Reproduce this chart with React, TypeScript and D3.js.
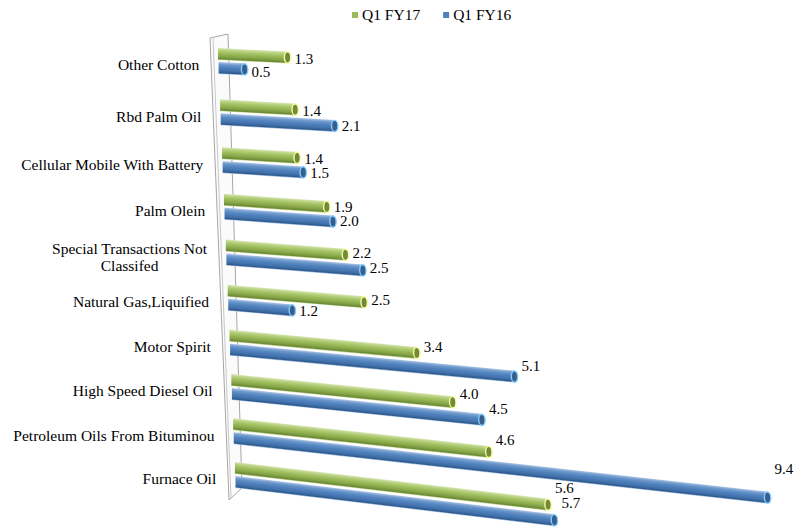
import { useEffect, useRef } from "react";
import * as d3 from "d3";

const categories = [
  "Other Cotton",
  "Rbd Palm Oil",
  "Cellular Mobile With Battery",
  "Palm Olein",
  "Special Transactions Not\nClassifed",
  "Natural Gas,Liquified",
  "Motor Spirit",
  "High Speed Diesel Oil",
  "Petroleum Oils From Bituminou",
  "Furnace Oil",
];
const seriesNames = ["Q1 FY17", "Q1 FY16"];
const fy17 = [1.3, 1.4, 1.4, 1.9, 2.2, 2.5, 3.4, 4.0, 4.6, 5.6];
const fy16 = [0.5, 2.1, 1.5, 2.0, 2.5, 1.2, 5.1, 4.5, 9.4, 5.7];

const W = 801;
const H = 529;
const FONT = "Liberation Serif, Tinos, DejaVu Serif, serif";

export default function App() {
  const ref = useRef<SVGSVGElement>(null);

  useEffect(() => {
    const svg = d3.select(ref.current);
    svg.selectAll("*").remove();

    // rows get a bit tighter towards the bottom (perspective)
    const rowY = d3.scalePow().exponent(0.95).domain([0, categories.length - 1]).range([54, 468]);
    const seriesY = d3.scalePoint().domain(seriesNames).range([0, 14]);
    // slight stretch to the right, like the 3D view
    const x = d3.scalePow().exponent(1.03).domain([0, 10]).range([0, 569]);
    // left edge of bars and their tilt depend on the height
    const leftX = d3.scaleLinear().domain([54, 482]).range([218, 235.5]);
    const slope = d3.scalePow().exponent(1.3).domain([54, 482]).range([0.05, 0.12]);

    const colors = { "Q1 FY17": "#9bbb59", "Q1 FY16": "#4f81bd" };
    const defs = svg.append("defs");
    const grads = [
      { id: "g17", stops: ["#d9e7b5", "#b5cf7c", "#9bbb59", "#86a54a", "#6b8a31", "#d2e2b0"] },
      { id: "g16", stops: ["#adc6e5", "#6d98cc", "#4f81bd", "#4373ad", "#2e5a8e", "#b3cbe8"] },
    ];
    grads.forEach((g) => {
      const lg = defs.append("linearGradient").attr("id", g.id).attr("x1", 0).attr("y1", 0).attr("x2", 0).attr("y2", 1);
      const offs = [0, 0.2, 0.45, 0.7, 0.9, 1];
      g.stops.forEach((c, i) => lg.append("stop").attr("offset", offs[i]).attr("stop-color", c));
    });

    // wall
    const wall = svg.append("g").attr("fill", "none").attr("stroke", "#a6a6a6").attr("stroke-width", 1);
    wall.append("path").attr("d", "M229,500 L242,488 L242,470 L231,480 Z").attr("fill", "#dcdcdc").attr("stroke", "none");
    wall.append("path").attr("d", "M210,38 L228,34 L242,488 L229,500 Z").attr("fill", "#fbfbfb");
    wall.append("path").attr("d", "M213,37 L231,498").attr("stroke", "#c8c8c8");

    const rows = categories.map((c, i) => ({ name: c, i, vals: [fy17[i], fy16[i]] }));

    const bars = svg.append("g");
    rows.forEach((r) => {
      seriesNames.forEach((s, si) => {
        const v = r.vals[si];
        const y0 = rowY(r.i) + (seriesY(s) as number);
        const x0 = leftX(y0);
        const k = slope(y0);
        const len = x(v);
        const g = bars
          .append("g")
          .attr("transform", `translate(${x0},${y0}) skewY(${(Math.atan(k) * 180) / Math.PI})`);
        g.append("rect")
          .attr("x", 0)
          .attr("y", -6)
          .attr("width", len)
          .attr("height", 12)
          .attr("fill", `url(#${si === 0 ? "g17" : "g16"})`);
        g.append("ellipse")
          .attr("cx", len)
          .attr("cy", 0)
          .attr("rx", 3.2)
          .attr("ry", 5.6)
          .attr("fill", d3.color(colors[s])!.darker(0.9).toString())
          .attr("stroke", d3.color(colors[s])!.brighter(1.3).toString())
          .attr("stroke-width", 1.4);

        svg
          .append("text")
          .attr("x", x0 + len + 7)
          .attr("y", y0 + 3.5 + len * k * 0.45)
          .attr("dy", "0.35em")
          .style("font-family", FONT)
          .style("font-size", "15px")
          .attr("fill", "#000")
          .text(d3.format(".1f")(v));
      });
    });

    // category labels
    rows.forEach((r) => {
      const mid = rowY(r.i) + 7;
      const right = leftX(mid) - 19;
      const lines = r.name.split("\n");
      const t = svg
        .append("text")
        .style("font-family", FONT)
        .style("font-size", "15.5px")
        .attr("fill", "#000");
      const lh = 17;
      const top = mid + 4 - ((lines.length - 1) * lh) / 2;
      const spans = lines.map((l, li) =>
        t.append("tspan").attr("y", top + li * lh).attr("dy", "0.35em").text(l)
      );
      if (lines.length === 1) {
        t.attr("text-anchor", "end");
        spans[0].attr("x", right);
      } else {
        const w = (spans[0].node() as SVGTSpanElement).getComputedTextLength();
        t.attr("text-anchor", "middle");
        spans.forEach((sp) => sp.attr("x", right - w / 2));
      }
    });

    // legend
    const legend = svg.append("g");
    let lx = 352;
    seriesNames.forEach((s) => {
      legend.append("rect").attr("x", lx).attr("y", 12).attr("width", 6).attr("height", 6).attr("fill", colors[s]);
      const t = legend
        .append("text")
        .attr("x", lx + 10)
        .attr("y", 20)
        .style("font-family", FONT)
        .style("font-size", "15.5px")
        .text(s);
      lx += 10 + (t.node() as SVGTextElement).getComputedTextLength() + 23;
    });
  }, []);

  return (
    <svg
      ref={ref}
      width={W}
      height={H}
      style={{ position: "absolute", left: 0, top: 0, background: "#fff" }}
    />
  );
}
